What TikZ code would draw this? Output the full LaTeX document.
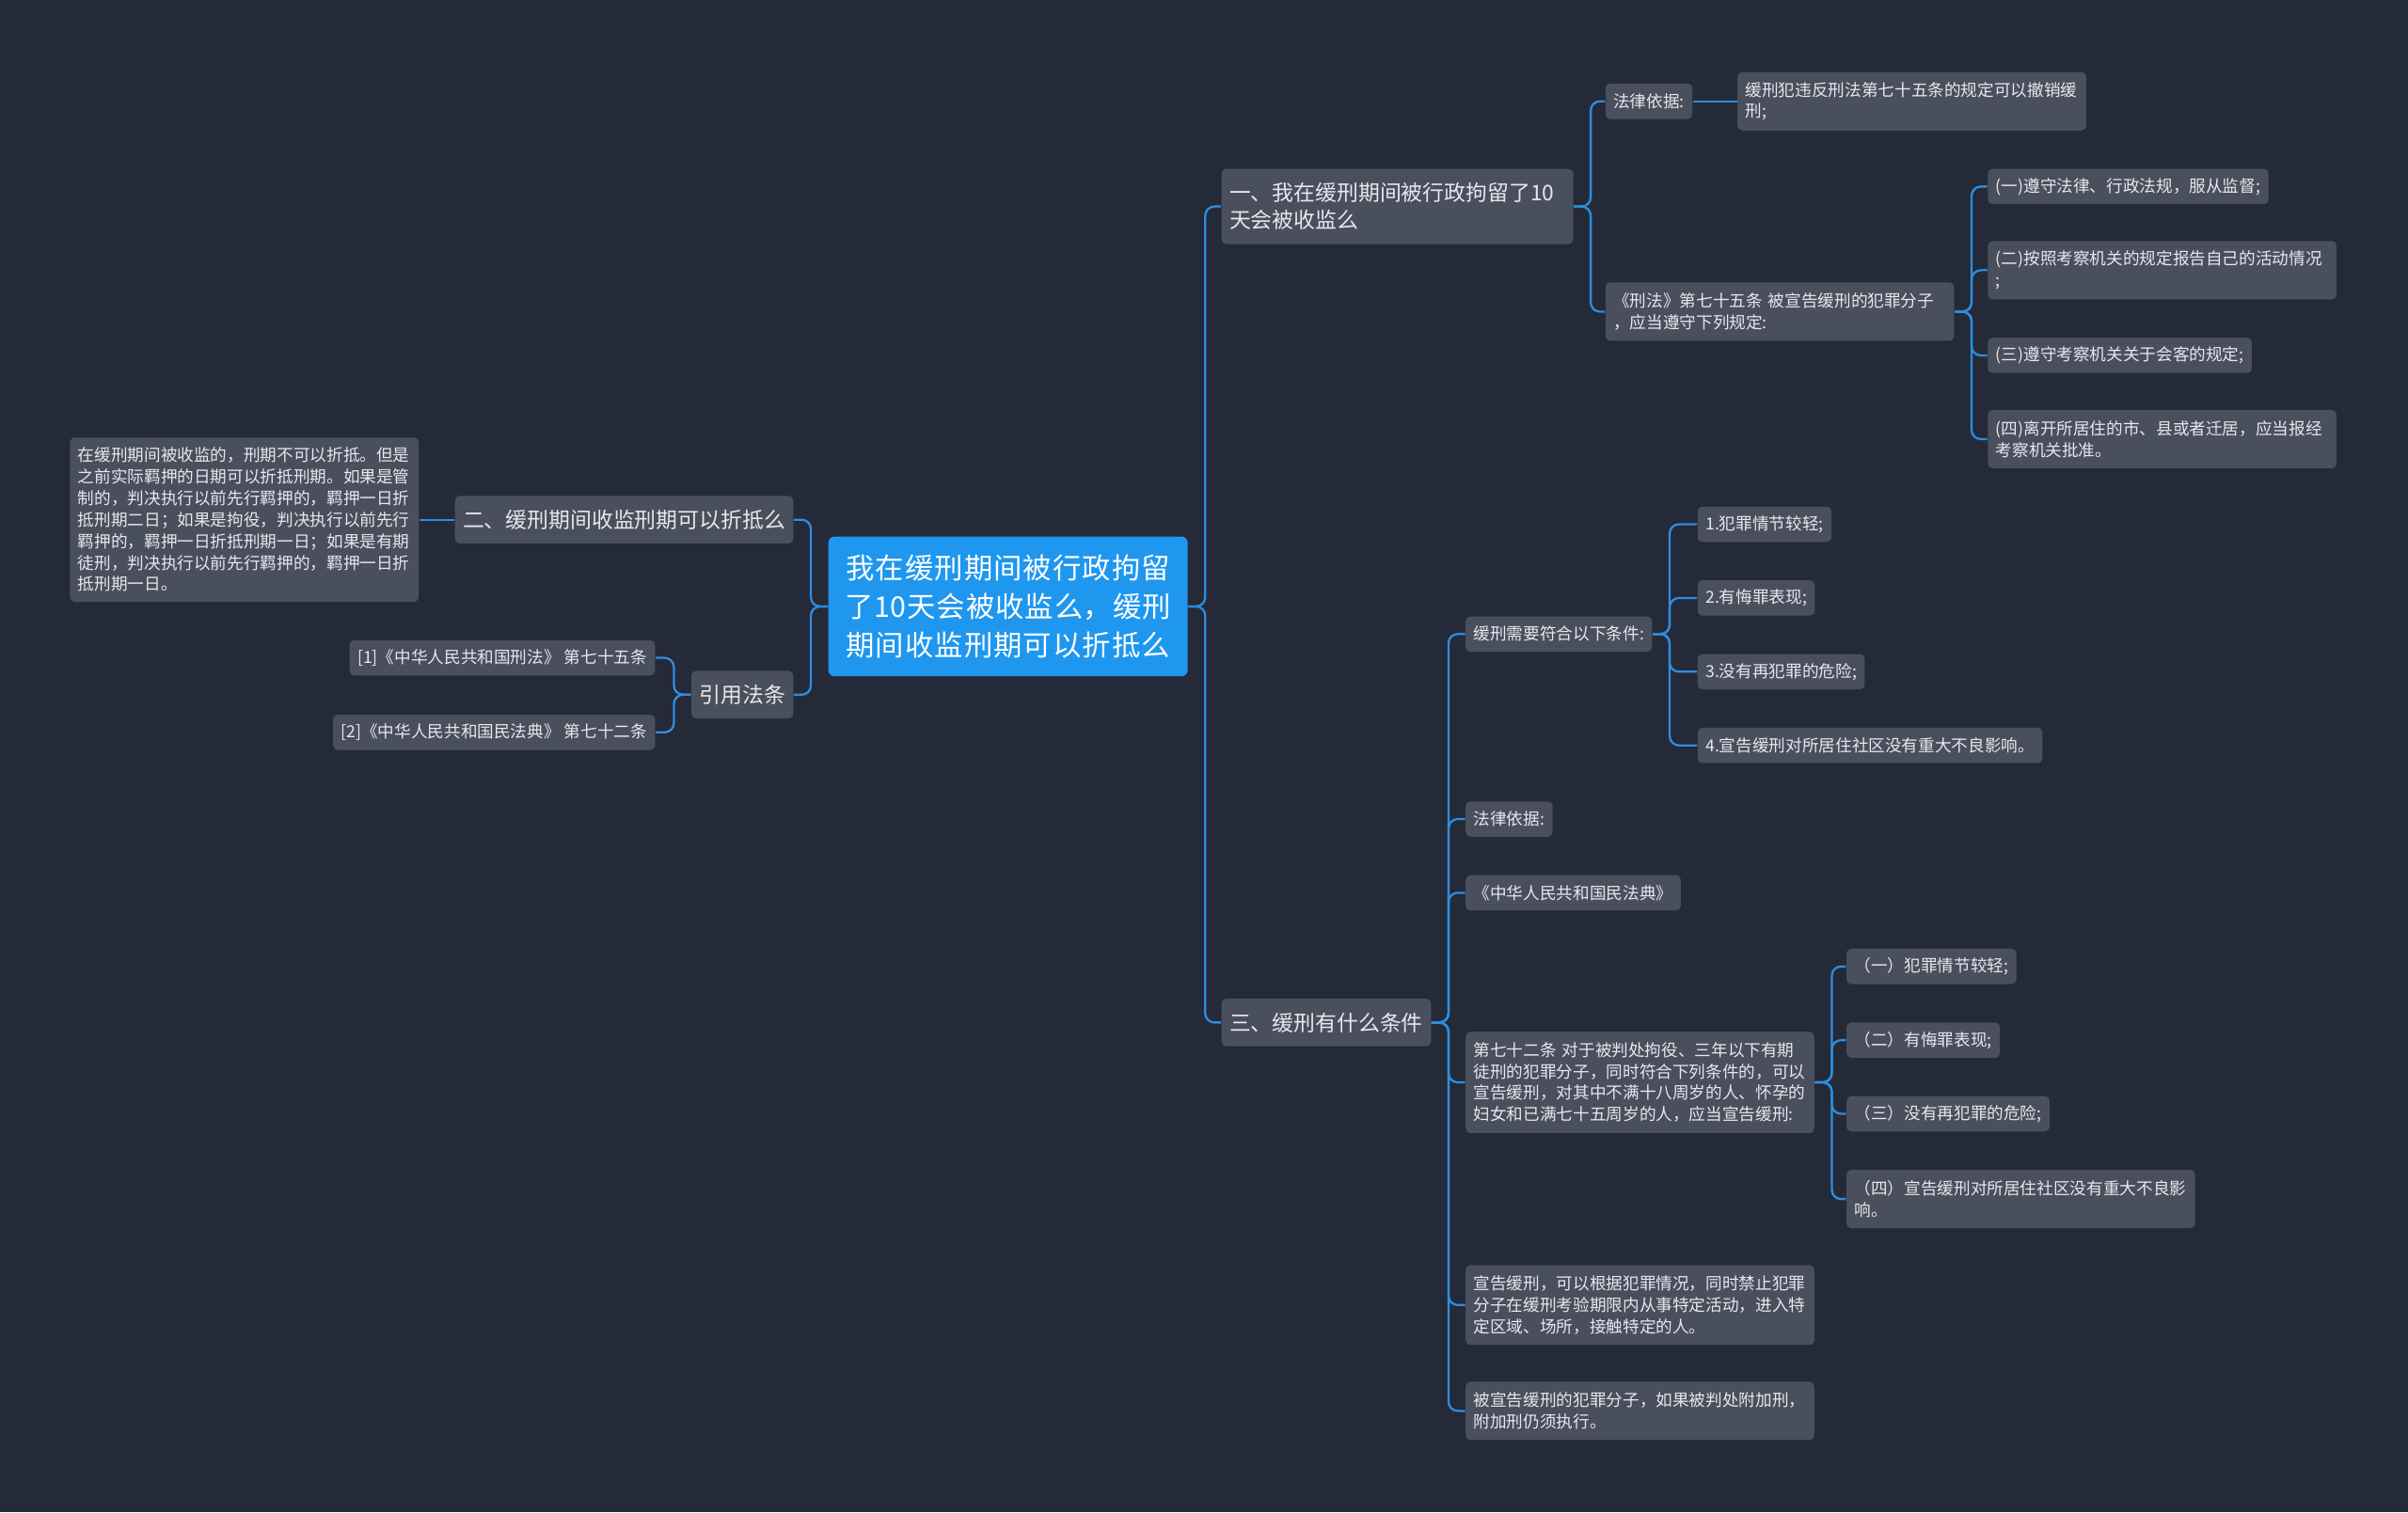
\documentclass[tikz,border=0pt]{standalone}
\usepackage{fontspec}
\setmainfont{Noto Sans CJK SC}
\XeTeXlinebreaklocale "zh"
\XeTeXlinebreakskip=0pt plus 1pt
\begin{document}
\definecolor{bg}{HTML}{252A38}
\definecolor{nd}{HTML}{4A4F5D}
\definecolor{ln}{HTML}{2D8EE0}
\definecolor{rt}{HTML}{1F97EE}
\definecolor{tx}{HTML}{E6E8EC}
\begin{tikzpicture}[x=0.5pt,y=-0.5pt,
  n/.style={fill=nd,rounded corners=1.5pt,text=tx,anchor=west,align=left,inner xsep=2.6pt,inner ysep=0pt,minimum height=11.5pt,font=\fontsize{5.4}{7}\selectfont},
  tw/.style={text width=108.3pt},
  big/.style={n,minimum height=15.5pt,font=\fontsize{7}{9}\selectfont},
  conn/.style={draw=ln,line width=0.7pt,rounded corners=3pt}]
\fill[bg] (0,0) rectangle (1568,985);
\useasboundingbox (0,0) rectangle (1568,985);
\node[fill=rt,rounded corners=2pt,text=white,align=center,text width=117pt,minimum height=45.5pt,inner xsep=0pt,font=\fontsize{9.3}{12.5}\selectfont,anchor=west] (root) at (539,395) {我在缓刑期间被行政拘留\\了10天会被收监么，缓刑\\期间收监刑期可以折抵么};
% branch 1
\node[big,minimum height=24.5pt,text width=109.3pt] (b1) at (795,134.5) {一、我在缓刑期间被行政拘留了10\\天会被收监么};
\node[n] (b1a) at (1045,66) {法律依据:};
\node[n,minimum height=19pt,tw] (b1a1) at (1131,66) {缓刑犯违反刑法第七十五条的规定可以撤销缓\\刑;};
\node[n,minimum height=19pt,tw] (b1b) at (1045,203) {《刑法》第七十五条 被宣告缓刑的犯罪分子\\，应当遵守下列规定:};
\node[n] (d1) at (1294,121.5) {(一)遵守法律、行政法规，服从监督;};
\node[n,minimum height=19pt,tw] (d2) at (1294,176) {(二)按照考察机关的规定报告自己的活动情况\\;};
\node[n] (d3) at (1294,231.5) {(三)遵守考察机关关于会客的规定;};
\node[n,minimum height=19pt,tw] (d4) at (1294,286) {(四)离开所居住的市、县或者迁居，应当报经\\考察机关批准。};
% left
\node[big,anchor=east] (b2) at (517,338.5) {二、缓刑期间收监刑期可以折抵么};
\node[n,anchor=east,minimum height=53.5pt,tw] (b2a) at (273,338.5) {在缓刑期间被收监的，刑期不可以折抵。但是\\之前实际羁押的日期可以折抵刑期。如果是管\\制的，判决执行以前先行羁押的，羁押一日折\\抵刑期二日；如果是拘役，判决执行以前先行\\羁押的，羁押一日折抵刑期一日；如果是有期\\徒刑，判决执行以前先行羁押的，羁押一日折\\抵刑期一日。};
\node[big,anchor=east] (b3) at (517,452.5) {引用法条};
\node[n,anchor=east] (b3a) at (427,428.5) {[1]《中华人民共和国刑法》 第七十五条};
\node[n,anchor=east] (b3b) at (427,477) {[2]《中华人民共和国民法典》 第七十二条};
% branch 4
\node[big] (b4) at (795,666) {三、缓刑有什么条件};
\node[n] (c1) at (954,413) {缓刑需要符合以下条件:};
\node[n] (e1) at (1105,341.5) {1.犯罪情节较轻;};
\node[n] (e2) at (1105,389.5) {2.有悔罪表现;};
\node[n] (e3) at (1105,437.5) {3.没有再犯罪的危险;};
\node[n] (e4) at (1105,485.5) {4.宣告缓刑对所居住社区没有重大不良影响。};
\node[n] (c2) at (954,533.5) {法律依据:};
\node[n] (c3) at (954,581.5) {《中华人民共和国民法典》};
\node[n,minimum height=33pt,tw] (c4) at (954,705) {第七十二条 对于被判处拘役、三年以下有期\\徒刑的犯罪分子，同时符合下列条件的，可以\\宣告缓刑，对其中不满十八周岁的人、怀孕的\\妇女和已满七十五周岁的人，应当宣告缓刑:};
\node[n] (f1) at (1202,629.5) {（一）犯罪情节较轻;};
\node[n] (f2) at (1202,677.5) {（二）有悔罪表现;};
\node[n] (f3) at (1202,725.5) {（三）没有再犯罪的危险;};
\node[n,minimum height=19pt,tw] (f4) at (1202,781) {（四）宣告缓刑对所居住社区没有重大不良影\\响。};
\node[n,minimum height=26pt,tw] (c5) at (954,850) {宣告缓刑，可以根据犯罪情况，同时禁止犯罪\\分子在缓刑考验期限内从事特定活动，进入特\\定区域、场所，接触特定的人。};
\node[n,minimum height=19pt,tw] (c6) at (954,919) {被宣告缓刑的犯罪分子，如果被判处附加刑，\\附加刑仍须执行。};
% connectors
\foreach \a/\b in {root/b1,root/b4,b1/b1a,b1/b1b,b1b/d1,b1b/d2,b1b/d3,b1b/d4,b4/c1,b4/c2,b4/c3,b4/c4,b4/c5,b4/c6,c1/e1,c1/e2,c1/e3,c1/e4,c4/f1,c4/f2,c4/f3,c4/f4}
  \draw[conn] (\a.east) -- ++(11,0) |- (\b.west);
\foreach \a/\b in {root/b2,root/b3,b3/b3a,b3/b3b}
  \draw[conn] (\a.west) -- ++(-11,0) |- (\b.east);
\draw[conn] (b1a.east) -- (b1a1.west);
\draw[conn] (b2.west) -- (b2a.east);
\end{tikzpicture}
\end{document}
